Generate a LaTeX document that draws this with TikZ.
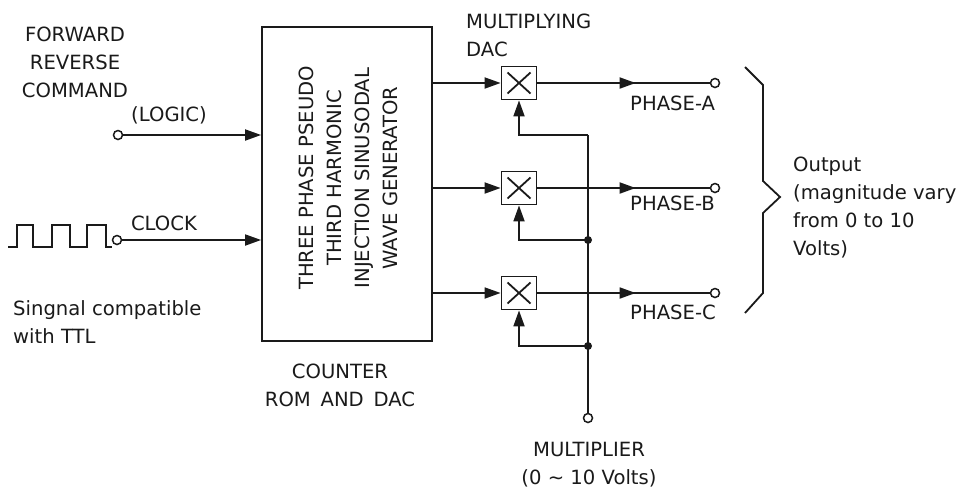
\documentclass[tikz,border=0pt]{standalone}
\usepackage{fontspec}
\setmainfont{DejaVu Sans}
\usetikzlibrary{arrows.meta,decorations.markings,calc}
\definecolor{ink}{HTML}{1A1A1A}
\begin{document}
\begin{tikzpicture}[x=1pt,y=-1pt,
  every node/.style={font=\fontsize{19.6}{28}\selectfont, text=ink},
  lbl/.style={inner sep=0pt, align=center},
  wire/.style={draw=ink, line width=1.8pt},
  arr/.style={wire, -{Triangle[length=16pt,width=11pt]}},
  midarr/.style={wire, postaction={decorate}, decoration={markings,
      mark=at position #1 with {\arrow{Triangle[length=16pt,width=11pt]}}}},
  term/.style={circle, draw=ink, line width=1.5pt, fill=white, minimum size=9pt, inner sep=0pt},
  jdot/.style={circle, fill=ink, minimum size=8pt, inner sep=0pt},
  mulbox/.style={draw=ink, line width=1.8pt, minimum width=35pt, minimum height=33pt, inner sep=0pt,
      path picture={\draw[ink, line width=1.8pt]
        ($(path picture bounding box.north west)+(6,6)$) -- ($(path picture bounding box.south east)+(-6,-6)$)
        ($(path picture bounding box.north east)+(-6,6)$) -- ($(path picture bounding box.south west)+(6,-6)$);}},
  genbox/.style={draw=ink, line width=1.8pt, minimum width=170pt, minimum height=314pt, inner sep=0pt}
]
\useasboundingbox (0,0) rectangle (968,491);
\fill[white] (0,0) rectangle (968,491);

% generator block
\node[genbox] (gen) at (347,184) {};
\node[lbl, rotate=90] (gentext) at (348,178) {THREE PHASE PSEUDO\\THIRD HARMONIC\\INJECTION SINUSODAL\\WAVE GENERATOR};
\node[lbl] (counter) at (340,385) {COUNTER\\ROM\enspace AND\enspace DAC};

% inputs
\node[lbl] (fwd) at (75,62) {FORWARD\\REVERSE\\COMMAND};
\node[lbl] (logic) at (169,115) {(LOGIC)};
\node[term] (inL) at (118,135) {};
\draw[arr] (inL) -- (gen.west |- inL);

\draw[wire] (8,247) -- (17,247) -- (17,225) -- (33,225) -- (33,247) -- (52,247) -- (52,225)
  -- (70,225) -- (70,247) -- (87,247) -- (87,225) -- (106,225) -- (106,247) -- (112,247);
\node[term] (inC) at (117,240) {};
\node[lbl] (clock) at (164,223) {CLOCK};
\draw[arr] (inC) -- (gen.west |- inC);
\node[lbl, align=left, anchor=west] (ttl) at (13,322) {Singnal compatible\\with TTL};

% multiplying DACs
\node[lbl, align=left, anchor=west] (mdac) at (466,35) {MULTIPLYING\\DAC};
\node[mulbox] (mA) at (519,83) {};
\node[mulbox] (mB) at (519,188) {};
\node[mulbox] (mC) at (519,293) {};
\draw[arr] (gen.east |- mA) -- (mA.west);
\draw[arr] (gen.east |- mB) -- (mB.west);
\draw[arr] (gen.east |- mC) -- (mC.west);

% outputs
\node[term] (oA) at (715,83) {};
\node[term] (oB) at (715,188) {};
\node[term] (oC) at (715,293) {};
\draw[midarr=0.57] (mA.east) -- (oA.west);
\draw[midarr=0.57] (mB.east) -- (oB.west);
\draw[midarr=0.57] (mC.east) -- (oC.west);
\node[lbl, anchor=west] (pA) at (630,103) {PHASE-A};
\node[lbl, anchor=west] (pB) at (630,203) {PHASE-B};
\node[lbl, anchor=west] (pC) at (630,312) {PHASE-C};

% multiplier bus
\node[term] (mul) at (588,418) {};
\coordinate (jtop) at (588,135);
\node[jdot] (j1) at (588,240) {};
\node[jdot] (j2) at (588,346) {};
\draw[wire] (mul.north) -- (jtop);
\draw[arr] (jtop) -| (mA.south);
\draw[arr] (j1.center) -| (mB.south);
\draw[arr] (j2.center) -| (mC.south);
\node[lbl] (multl) at (589,465) {MULTIPLIER\\(0 ∼ 10 Volts)};

% brace and output text
\draw[wire, line join=miter] (745,67) -- (763,85) -- (763,181) -- (780,197) -- (763,213) -- (763,293) -- (745,313);
\node[lbl, align=left, anchor=west] (outt) at (793,208) {Output\\(magnitude vary\\from 0 to 10\\Volts)};
\end{tikzpicture}
\end{document}
